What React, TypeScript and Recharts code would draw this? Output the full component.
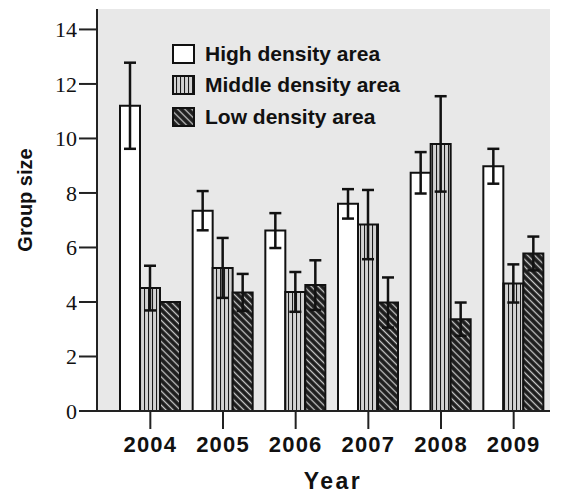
import { Bar, BarChart, CartesianGrid, ErrorBar, Legend, XAxis, YAxis } from "recharts"

const years = ["2004", "2005", "2006", "2007", "2008", "2009"]
const highDensity = [11.2, 7.35, 6.62, 7.6, 8.74, 8.98]
const highError = [1.58, 0.72, 0.64, 0.54, 0.76, 0.64]
const middleDensity = [4.51, 5.25, 4.37, 6.84, 9.8, 4.68]
const middleError = [0.82, 1.1, 0.73, 1.27, 1.75, 0.7]
const lowDensity = [4.0, 4.35, 4.62, 3.98, 3.37, 5.78]
const lowError = [0, 0.68, 0.91, 0.92, 0.61, 0.62]
const yTicks = [0, 2, 4, 6, 8, 10, 12, 14]

const seriesNames = ["High density area", "Middle density area", "Low density area"]

const data = years.map((year, i) => ({
  year,
  high: highDensity[i],
  highErr: highError[i],
  middle: middleDensity[i],
  middleErr: middleError[i],
  low: lowDensity[i],
  lowErr: lowError[i],
}))

const sans = "'Liberation Sans', Arial, sans-serif"
const serif = "'Liberation Serif', 'Times New Roman', serif"

function Patterns({ prefix }: { prefix: string }) {
  return (
    <defs>
      <pattern id={`${prefix}-vert`} width="4" height="4" patternUnits="userSpaceOnUse">
        <rect width="4" height="4" fill="#d2d2d2" />
        <line x1="0.5" y1="0" x2="0.5" y2="4" stroke="#1a1a1a" strokeWidth="1.1" />
      </pattern>
      <pattern id={`${prefix}-diag`} width="5" height="5" patternUnits="userSpaceOnUse" patternTransform="rotate(-45)">
        <rect width="5" height="5" fill="#1c1c1c" />
        <line x1="2.5" y1="0" x2="2.5" y2="5" stroke="#c8c8c8" strokeWidth="1.3" />
      </pattern>
    </defs>
  )
}

function LegendBox() {
  const fills = ["#ffffff", "url(#lg-vert)", "url(#lg-diag)"]
  return (
    <div style={{ fontFamily: sans, fontWeight: "bold", fontSize: 21, color: "#111" }}>
      <svg width={0} height={0} style={{ position: "absolute" }}>
        <Patterns prefix="lg" />
      </svg>
      {seriesNames.map((name, i) => (
        <div key={name} style={{ display: "flex", alignItems: "center", height: 31.5 }}>
          <svg width={23} height={20} style={{ marginRight: 10 }}>
            <rect x={1} y={1} width={21} height={18} fill={fills[i]} stroke="#111" strokeWidth={2} />
          </svg>
          <span>{name}</span>
        </div>
      ))}
    </div>
  )
}

function GroupSizeLabel() {
  return (
    <text
      x={32}
      y={200}
      transform="rotate(-90, 32, 200)"
      textAnchor="middle"
      fontFamily={sans}
      fontWeight="bold"
      fontSize={20}
      fill="#111"
    >
      Group size
    </text>
  )
}

function YearLabel() {
  return (
    <text
      x={333}
      y={489}
      textAnchor="middle"
      fontFamily={sans}
      fontWeight="bold"
      fontSize={23}
      letterSpacing={2.5}
      fill="#111"
    >
      Year
    </text>
  )
}

export default function App() {
  return (
    <div style={{ position: "absolute", left: 0, top: 0, background: "#fff" }}>
      <BarChart
        width={568}
        height={494}
        data={data}
        margin={{ top: 9, right: 18, bottom: 33, left: 0 }}
        barCategoryGap={6}
        barGap={0}
      >
        <Patterns prefix="bar" />
        <CartesianGrid fill="#e8e8e8" horizontal={false} vertical={false} />
        <XAxis
          dataKey="year"
          height={50}
          padding={{ left: 17, right: 0 }}
          stroke="#222"
          strokeWidth={2}
          tickSize={18}
          tickMargin={7}
          tick={{ fontFamily: sans, fontWeight: "bold", fontSize: 22, letterSpacing: 1.2, fill: "#111" }}
          label={{ content: YearLabel }}
        />
        <XAxis xAxisId="top" dataKey="year" orientation="top" height={0} tick={false} tickLine={false} stroke="#222" strokeWidth={2} />
        <YAxis
          width={97}
          domain={[0, 14.75]}
          ticks={yTicks}
          stroke="#222"
          strokeWidth={2}
          tickSize={18}
          tickMargin={2}
          tick={{ fontFamily: serif, fontSize: 22, fill: "#111" }}
          label={{ content: GroupSizeLabel }}
        />
        <YAxis yAxisId="right" orientation="right" width={0} tick={false} tickLine={false} stroke="#222" strokeWidth={2} />
        <Legend
          layout="vertical"
          align="center"
          verticalAlign="middle"
          content={LegendBox}
          wrapperStyle={{ left: 172, top: 38, width: "auto" }}
        />
        <Bar dataKey="high" name={seriesNames[0]} fill="#ffffff" stroke="#111" strokeWidth={2} isAnimationActive={false}>
          <ErrorBar dataKey="highErr" width={6} stroke="#111" strokeWidth={2.5} />
        </Bar>
        <Bar dataKey="middle" name={seriesNames[1]} fill="url(#bar-vert)" stroke="#111" strokeWidth={2} isAnimationActive={false}>
          <ErrorBar dataKey="middleErr" width={6} stroke="#111" strokeWidth={2.5} />
        </Bar>
        <Bar dataKey="low" name={seriesNames[2]} fill="url(#bar-diag)" stroke="#111" strokeWidth={2} isAnimationActive={false}>
          <ErrorBar dataKey="lowErr" width={6} stroke="#111" strokeWidth={2.5} />
        </Bar>
      </BarChart>
    </div>
  )
}
